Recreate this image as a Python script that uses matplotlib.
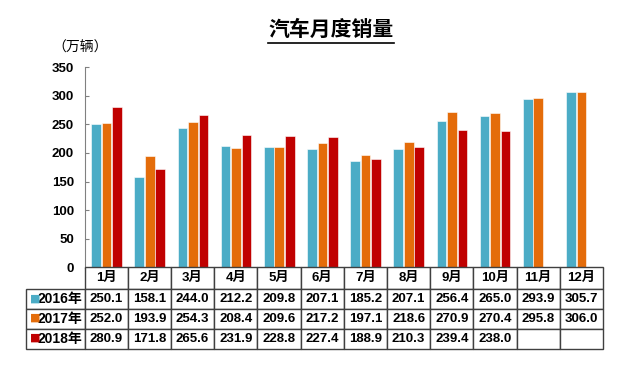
import numpy as np
import matplotlib.pyplot as plt

plt.rcParams['font.family'] = ['Liberation Sans', 'Noto Sans CJK SC', 'DejaVu Sans']

months = ['1月', '2月', '3月', '4月', '5月', '6月', '7月', '8月', '9月', '10月', '11月', '12月']
years = ['2016年', '2017年', '2018年']
sales_2016 = [250.1, 158.1, 244.0, 212.2, 209.8, 207.1, 185.2, 207.1, 256.4, 265.0, 293.9, 305.7]
sales_2017 = [252.0, 193.9, 254.3, 208.4, 209.6, 217.2, 197.1, 218.6, 270.9, 270.4, 295.8, 306.0]
sales_2018 = [280.9, 171.8, 265.6, 231.9, 228.8, 227.4, 188.9, 210.3, 239.4, 238.0]
colors = ['#4BACC6', '#E46C0A', '#C00000']

W, H = 640, 371
fig = plt.figure(figsize=(6.4, 3.71), dpi=100)

# chart area
ax = fig.add_axes([85/W, 1 - 267.5/H, 518/W, 200.5/H])
x = np.arange(12) + 0.5
offs = [-0.243, 0.0, 0.243]
bw = 0.225
for k, vals in enumerate([sales_2016, sales_2017, sales_2018]):
    ax.bar(x[:len(vals)] + offs[k], vals, width=bw, color=colors[k],
           edgecolor='white', linewidth=0.4)
ax.set_xlim(0, 12)
ax.set_ylim(0, 350)
ax.set_yticks(range(0, 351, 50))
ax.set_xticks([])
for s in ['top', 'right']:
    ax.spines[s].set_visible(False)
ax.spines['left'].set_color('#808080')
ax.spines['bottom'].set_color('#808080')
ax.tick_params(axis='y', direction='in', length=3, color='#808080', pad=8,
               labelsize=9.5)
for lab in ax.get_yticklabels():
    lab.set_fontweight('bold')

fig.text(330.8/W, 1 - 30/H, '汽车月度销量', ha='center', va='center',
         fontsize=15, fontweight='bold')
fig.add_artist(plt.Line2D([268/W, 393.5/W], [1 - 42.5/H, 1 - 42.5/H],
                          color='black', lw=1.2))
fig.text(52/W, 1 - 48/H, '（万辆）', ha='left', va='center', fontsize=10)

# data table
tax = fig.add_axes([26/W, 1 - 348.5/H, 577/W, 81/H])
tax.axis('off')
cells = [[''] + months]
for yr, vals in zip(years, [sales_2016, sales_2017, sales_2018]):
    cells.append([yr] + ['%.1f' % v for v in vals] + [''] * (12 - len(vals)))
col_w = [58.5] + [518.5 / 12] * 12
row_h = [21.4, 19.6, 19.2, 19.2]
tbl = tax.table(cellText=cells, colWidths=[w / 577 for w in col_w],
                cellLoc='center', bbox=[0, 0, 1, 1])
tbl.auto_set_font_size(False)
for (r, c), cell in tbl.get_celld().items():
    cell.set_height(row_h[r] / 81)
    cell.set_edgecolor('#404040')
    cell.set_linewidth(1.0)
    cell.get_text().set_fontsize(9.5)
    cell.get_text().set_fontweight('bold')
    if c == 0 and r > 0:
        cell.get_text().set_fontsize(10)
        cell.get_text().set_ha('right')
        cell._loc = 'right'
        cell.PAD = 0.04
tbl[0, 0].visible_edges = 'open'

# colored markers in row labels
y_top = 1.0
centers = []
for h in row_h:
    centers.append(y_top - h / 81 / 2)
    y_top -= h / 81
for k in range(3):
    tax.text((35 - 26) / 577, centers[k + 1], '■', color=colors[k],
             ha='center', va='center', fontsize=8, family='DejaVu Sans')

fig.savefig('out.png', dpi=100)
